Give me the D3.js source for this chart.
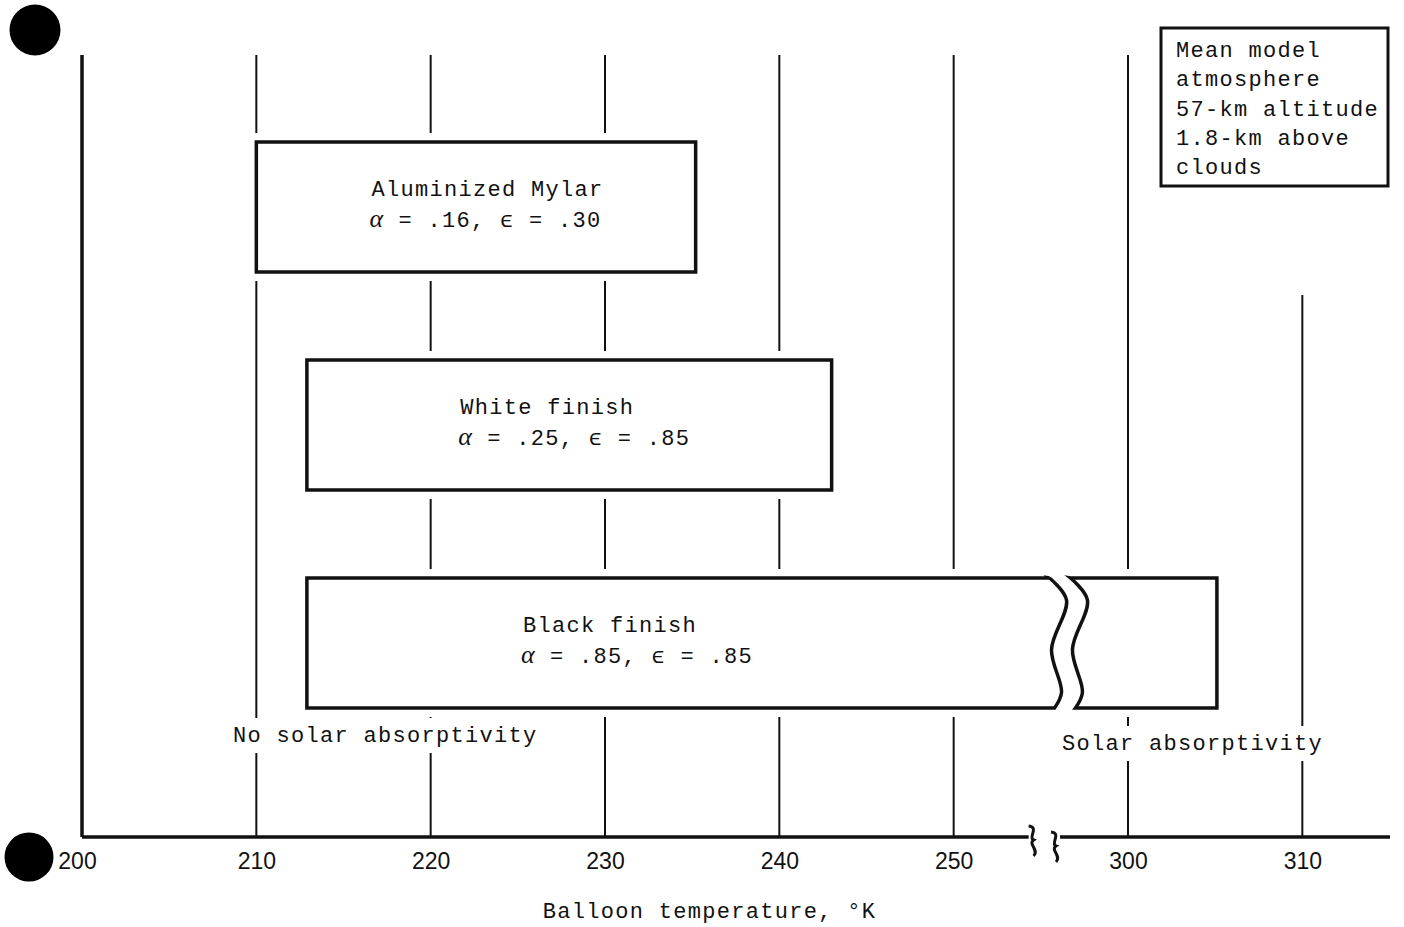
<!DOCTYPE html>
<html>
<head>
<meta charset="utf-8">
<script src="https://cdn.jsdelivr.net/npm/d3@7"></script>
<style>
  body { margin: 0; background: #fff; }
  .mono { font-family: "Liberation Mono", monospace; font-size: 22px; letter-spacing: 1.3px; fill: #111; }
  .greek { font-family: "Liberation Serif", serif; font-style: italic; font-size: 26px; }
  .tick text { font-family: "Liberation Sans", sans-serif; font-size: 23px; fill: #111; }
</style>
</head>
<body>
<div id="chart"></div>
<script>
// boxes, top to bottom
const materials = ["Aluminized Mylar", "White finish", "Black finish"];
const alphaVals = [".16", ".25", ".85"];
const epsVals = [".30", ".85", ".85"];
const tempLow = [210, 212.9, 212.9];
const tempHigh = [235.2, 243.0, 305.1];
const labelTemp = [216.6, 221.7, 225.3];   // left edge of the box text

// axis
const tickTemps = [200, 210, 220, 230, 240, 250, 300, 310];
const gridTemps = [210, 220, 230, 240, 250, 300, 310];
const axisBreak = [254.3, 296.1];   // where the axis line stops / restarts
const boxBreak = [255.9, 297.1];    // wavy edges of the black finish box

const legendLines = ["Mean model", "atmosphere", "57-km altitude", "1.8-km above", "clouds"];
const notes = ["No solar absorptivity", "Solar absorptivity"];
const noteTemp = [217.4, 303.7];

const W = 1404, H = 927;
const plotTop = 55, plotBottom = 837;
const breakShift = 40; // 300 on the axis sits where 260 would be

// temperatures above the break are slid back onto one linear axis
const toAxis = t => t > 275 ? t - breakShift : t;

const svg = d3.select("#chart").append("svg")
  .attr("width", W).attr("height", H);

const x = d3.scaleLinear().domain([200, 260]).range([82, 1128]);
const X = t => x(toAxis(t));

const y = d3.scaleBand().domain(materials)
  .range([142, 708]).paddingInner(0.4037);

// grid lines first, boxes and labels blank them out with white
svg.append("g").selectAll("line")
  .data(gridTemps)
  .enter().append("line")
  .attr("x1", d => X(d)).attr("x2", d => X(d))
  .attr("y1", d => d === 310 ? 295 : plotTop)
  .attr("y2", plotBottom)
  .attr("stroke", "#111").attr("stroke-width", 2);

// left axis
svg.append("line")
  .attr("x1", X(200)).attr("x2", X(200))
  .attr("y1", plotTop).attr("y2", plotBottom)
  .attr("stroke", "#111").attr("stroke-width", 3.5);

// wavy edge for the broken box
const waveOffsets = [[-7, 0], [10, 0.17], [-5, 0.55], [5, 0.88], [-2, 1]];
function wavePoints(xc, y0, h) {
  return waveOffsets.map(o => [xc + o[0], y0 + o[1] * h]);
}
const line = d3.line().curve(d3.curveCatmullRom);

function boxPath(i) {
  const y0 = y(materials[i]), h = y.bandwidth();
  const x0 = X(tempLow[i]), x1 = X(tempHigh[i]);
  if (tempHigh[i] < 275) {
    return [`M${x0},${y0}H${x1}V${y0 + h}H${x0}Z`];
  }
  const wl = wavePoints(X(boxBreak[0]), y0, h);
  const wr = wavePoints(X(boxBreak[1]), y0, h);
  const left = `M${x0},${y0}L${wl[0][0]},${y0}` + line(wl).replace("M", "L") + `L${x0},${y0 + h}Z`;
  const right = `M${x1},${y0}L${wr[0][0]},${y0}` + line(wr).replace("M", "L") + `L${x1},${y0 + h}Z`;
  return [left, right];
}

const boxes = svg.append("g");
materials.forEach((m, i) => {
  boxPath(i).forEach(p => {
    boxes.append("path").attr("d", p)
      .attr("fill", "#fff").attr("stroke", "#fff").attr("stroke-width", 18)
      .attr("stroke-linejoin", "round");
  });
});
materials.forEach((m, i) => {
  boxPath(i).forEach(p => {
    boxes.append("path").attr("d", p)
      .attr("fill", "#fff").attr("stroke", "#111").attr("stroke-width", 3.5);
  });
  const cy = y(m) + y.bandwidth() / 2;
  boxes.append("text").attr("class", "mono")
    .attr("x", X(labelTemp[i])).attr("y", cy - 11)
    .text(m);
  const t2 = boxes.append("text").attr("class", "mono")
    .attr("x", X(labelTemp[i]) - 2).attr("y", cy + 20);
  t2.append("tspan").attr("class", "greek").text("\u03B1");
  t2.append("tspan").attr("x", X(labelTemp[i]) + 12.5).text(" = " + alphaVals[i] + ", ");
  t2.append("tspan").text("\u03F5");
  t2.append("tspan").text(" = " + epsVals[i]);
});

// notes under the boxes, with a white patch over the grid
const noteG = svg.append("g");
notes.forEach((n, i) => {
  const ny = i === 0 ? 742 : 750;
  const bg = noteG.append("rect").attr("fill", "#fff");
  const t = noteG.append("text").attr("class", "mono")
    .attr("x", X(noteTemp[i])).attr("y", ny)
    .attr("text-anchor", "middle").text(n);
  const b = t.node().getBBox();
  bg.attr("x", b.x - 4).attr("y", b.y - 6).attr("width", b.width + 8).attr("height", b.height + 10);
});

// legend box
const lg = svg.append("g").attr("transform", "translate(1161,28)");
lg.append("rect").attr("width", 227).attr("height", 158)
  .attr("fill", "#fff").attr("stroke", "#111").attr("stroke-width", 3);
lg.selectAll("text").data(legendLines)
  .enter().append("text").attr("class", "mono")
  .attr("x", 15).attr("y", (d, i) => 29 + i * 29.3)
  .text(d => d);

// bottom axis, labels only; the line is drawn by hand with its break
const axis = d3.axisBottom(x)
  .tickValues(tickTemps.map(toAxis))
  .tickFormat(d => String(d > 255 ? d + breakShift : d))
  .tickSize(0).tickPadding(16);
const ag = svg.append("g").attr("transform", `translate(0,${plotBottom})`).call(axis);
ag.select(".domain").remove();
ag.selectAll(".tick text").attr("dx", d => d === 200 ? -5 : 0);

svg.append("path")
  .attr("d", `M${X(200)},${plotBottom}H${X(axisBreak[0])}M${X(axisBreak[1])},${plotBottom}H1390`)
  .attr("stroke", "#111").attr("stroke-width", 3.5).attr("fill", "none");

function brace(cx, cy) {
  return `M${cx - 5},${cy - 14} C${cx + 6},${cy - 13} ${cx - 6},${cy - 2} ${cx},${cy}` +
    ` C${cx - 6},${cy + 4} ${cx + 6},${cy + 10} ${cx},${cy + 16}`;
}
svg.append("path").attr("d", brace(X(axisBreak[0]) + 5, 840))
  .attr("stroke", "#111").attr("stroke-width", 3).attr("fill", "none");
svg.append("path").attr("d", brace(X(axisBreak[1]) - 4, 846))
  .attr("stroke", "#111").attr("stroke-width", 3).attr("fill", "none");

svg.append("text").attr("class", "mono")
  .attr("x", X(236.0)).attr("y", 918)
  .attr("text-anchor", "middle")
  .text("Balloon temperature, \u00B0K");

// punch holes from the scanned page
svg.append("circle").attr("cx", 35).attr("cy", 30).attr("r", 25.5).attr("fill", "#000");
svg.append("circle").attr("cx", 29).attr("cy", 857).attr("r", 24.5).attr("fill", "#000");
</script>
</body>
</html>
